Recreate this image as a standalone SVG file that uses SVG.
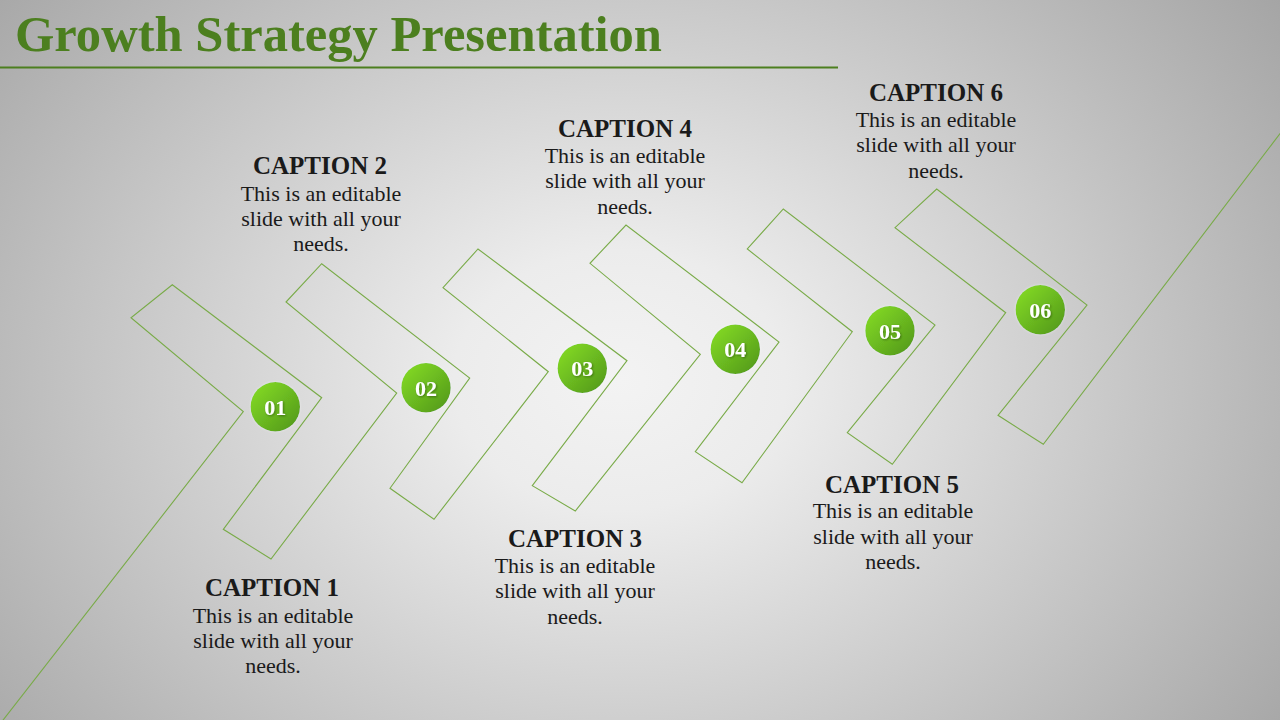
<svg xmlns="http://www.w3.org/2000/svg" width="1280" height="720" viewBox="0 0 1280 720">
<defs>
<radialGradient id="bg" gradientUnits="userSpaceOnUse" cx="620" cy="380" r="720" gradientTransform="translate(620 380) scale(1.15 0.9) translate(-620 -380)">
<stop offset="0" stop-color="#f3f3f3"/>
<stop offset="0.2" stop-color="#ececec"/>
<stop offset="1" stop-color="#a4a4a4"/>
</radialGradient>
<linearGradient id="ball" x1="0.15" y1="0.15" x2="0.85" y2="0.85">
<stop offset="0" stop-color="#7fd424"/>
<stop offset="1" stop-color="#58a01c"/>
</linearGradient>
<filter id="sh" x="-30%" y="-30%" width="160%" height="160%">
<feDropShadow dx="0" dy="0" stdDeviation="1.2" flood-color="#ffffff" flood-opacity="0.5"/>
</filter>
<filter id="tsh" x="-30%" y="-30%" width="160%" height="160%">
<feDropShadow dx="1" dy="1" stdDeviation="0.8" flood-color="#000000" flood-opacity="0.35"/>
</filter>
</defs>
<style>
.title{font-family:"Liberation Serif",serif;font-weight:bold;font-size:50px;fill:#4c7f1f}
.cap{font-family:"Liberation Serif",serif;font-weight:bold;font-size:25px;fill:#1a1a1a;text-anchor:middle}
.body{font-family:"Liberation Serif",serif;font-size:22px;fill:#1a1a1a;text-anchor:middle}
.num{font-family:"Liberation Serif",serif;font-weight:bold;font-size:22px;fill:#ffffff;text-anchor:middle}
.ribbon{fill:none;stroke:#79ab48;stroke-width:1.1;stroke-linejoin:miter}
.dot{fill:url(#ball)}
</style>
<rect width="1280" height="720" fill="url(#bg)"/>
<g id="header">
<text class="title" x="15" y="51" textLength="647" lengthAdjust="spacingAndGlyphs">Growth Strategy Presentation</text>
<line x1="0" y1="67.5" x2="838" y2="67.5" stroke="#4c7f1f" stroke-width="2"/>
</g>
<g id="connectors">
<polyline class="ribbon" points="0,724 243.3,411.7 131,317.7 172.3,284.7 321.7,397.7 223.3,529.3 271,559 396.7,393 286,302 321.7,263.7 469.7,378 390,488.3 434,519.3 548.3,371.7 443,287.7 478,249 627,360.7 532.3,485.7 575.3,511 700.3,354.3 590,263.3 626,225 779,342 695.3,451.7 742,482.7 852.3,331.7 747.3,249 783.3,209 935,325 847.3,432.7 892.3,464.3 1005.7,312.7 895,227.7 936.7,189 1087,305 998,415.3 1043.3,444.3 1282,131"/>
</g>
<g id="step1">
<circle class="dot" cx="275.3" cy="406.7" r="24.7" filter="url(#sh)"/>
<text class="num" x="275.3" y="414.5" filter="url(#tsh)">01</text>
<text class="cap" x="272" y="596">CAPTION 1</text>
<text class="body" x="273" y="623">This is an editable</text>
<text class="body" x="273" y="648">slide with all your</text>
<text class="body" x="273" y="673">needs.</text>
</g>
<g id="step2">
<circle class="dot" cx="426" cy="387.7" r="24.7" filter="url(#sh)"/>
<text class="num" x="426" y="395.5" filter="url(#tsh)">02</text>
<text class="cap" x="320" y="174">CAPTION 2</text>
<text class="body" x="321" y="201">This is an editable</text>
<text class="body" x="321" y="226">slide with all your</text>
<text class="body" x="321" y="251">needs.</text>
</g>
<g id="step3">
<circle class="dot" cx="582.3" cy="368.3" r="24.7" filter="url(#sh)"/>
<text class="num" x="582.3" y="376.1" filter="url(#tsh)">03</text>
<text class="cap" x="575" y="547">CAPTION 3</text>
<text class="body" x="575" y="573">This is an editable</text>
<text class="body" x="575" y="598">slide with all your</text>
<text class="body" x="575" y="624">needs.</text>
</g>
<g id="step4">
<circle class="dot" cx="735.3" cy="349.3" r="24.7" filter="url(#sh)"/>
<text class="num" x="735.3" y="357.1" filter="url(#tsh)">04</text>
<text class="cap" x="625" y="137">CAPTION 4</text>
<text class="body" x="625" y="163">This is an editable</text>
<text class="body" x="625" y="188">slide with all your</text>
<text class="body" x="625" y="214">needs.</text>
</g>
<g id="step5">
<circle class="dot" cx="890" cy="330.7" r="24.7" filter="url(#sh)"/>
<text class="num" x="890" y="338.5" filter="url(#tsh)">05</text>
<text class="cap" x="892" y="493">CAPTION 5</text>
<text class="body" x="893" y="518">This is an editable</text>
<text class="body" x="893" y="544">slide with all your</text>
<text class="body" x="893" y="569">needs.</text>
</g>
<g id="step6">
<circle class="dot" cx="1040.3" cy="309.7" r="24.7" filter="url(#sh)"/>
<text class="num" x="1040.3" y="317.5" filter="url(#tsh)">06</text>
<text class="cap" x="936" y="101">CAPTION 6</text>
<text class="body" x="936" y="127">This is an editable</text>
<text class="body" x="936" y="152">slide with all your</text>
<text class="body" x="936" y="178">needs.</text>
</g>
</svg>
